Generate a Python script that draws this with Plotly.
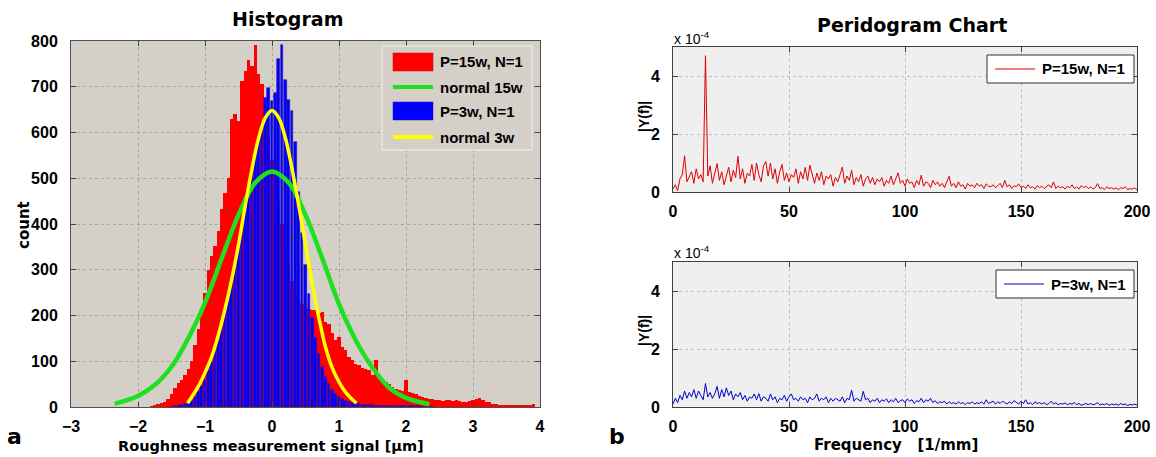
import numpy as np
import plotly.graph_objects as go

W, H = 1156, 457

# ---------------- Histogram data ----------------
red_start, blue_start, bin_w = -1.80, -1.50, 0.05
red_counts = [2, 4, 6, 8, 12, 18, 28, 42, 52, 58,
              70, 82, 100, 135, 170, 205, 250, 300, 330, 352,
              385, 432, 468, 500, 630, 640, 625, 712, 735, 758,
              745, 792, 728, 705, 640, 590, 540, 500, 450, 400,
              350, 310, 275, 250, 235, 225, 218, 215, 212, 211,
              205, 208, 186, 181, 161, 146, 153, 131, 124, 109,
              102, 95, 91, 86, 84, 80, 70, 102, 66, 60,
              55, 50, 44, 40, 37, 35, 58, 33, 30, 29,
              25, 22, 20, 18, 17, 16, 16, 14, 15, 15,
              13, 16, 14, 12, 12, 14, 15, 17, 19, 15,
              12, 10, 7, 7, 5, 4, 5, 3, 4, 3,
              4, 5, 3, 4, 7]
blue_counts = [1, 2, 3, 4, 6, 9, 14, 22, 32, 45,
               60, 78, 98, 120, 145, 175, 205, 240, 272, 310,
               350, 395, 435, 478, 515, 555, 585, 620, 675, 697,
               668, 686, 760, 792, 715, 672, 648, 580, 470, 380,
               310, 248, 195, 150, 115, 88, 66, 50, 38, 29,
               22, 17, 13, 10, 8, 7, 6, 5, 5, 4,
               4, 3, 3, 3, 3, 2, 2, 2, 2, 2,
               2, 2, 2, 2, 2, 1, 1, 1, 1]
red_centers = np.round(red_start + bin_w * np.arange(len(red_counts)), 3)
blue_centers = np.round(blue_start + bin_w * np.arange(len(blue_counts)), 3)

green_x = [-2.35, -2.0, -1.75, -1.5, -1.25, -1.0, -0.75, -0.5, -0.25, 0.0,
           0.25, 0.5, 0.75, 1.0, 1.25, 1.5, 1.75, 2.0, 2.35]
green_y = [7, 24, 48, 88, 150, 228, 325, 420, 490, 515,
           490, 420, 325, 225, 146, 86, 42, 20, 6]
yellow_x = [-1.26, -1.1, -1.0, -0.9, -0.8, -0.7, -0.6, -0.5, -0.4, -0.3, -0.2, -0.1, 0.0,
            0.1, 0.2, 0.3, 0.4, 0.5, 0.6, 0.7, 0.8, 0.9, 1.0, 1.1, 1.26]
yellow_y = [8, 45, 75, 110, 158, 215, 280, 355, 440, 520, 588, 632, 648,
            632, 588, 520, 440, 355, 270, 195, 130, 85, 55, 32, 8]

# ---------------- Periodogram data (x 1e-4) ----------------
freq_start, freq_step = 0, 1
red_psd = [0.10, 0.25, 0.05, 0.45, 0.60, 1.25, 0.35, 0.55, 0.70, 0.30,
           0.80, 0.45, 0.60, 0.35, 4.70, 0.55, 0.90, 0.30, 0.65, 0.98,
           0.40, 0.70, 0.25, 0.60, 0.85, 0.35, 0.75, 0.50, 1.23, 0.45,
           0.80, 0.30, 0.65, 0.55, 0.95, 0.40, 1.00, 0.60, 0.35, 0.90,
           1.05, 0.55, 1.00, 0.45, 0.80, 0.30, 0.70, 0.95, 0.40, 0.65,
           0.35, 0.60, 0.50, 0.80, 0.30, 0.70, 0.45, 0.85, 0.40, 0.92,
           0.55, 0.30, 0.65, 0.40, 0.70, 0.25, 0.55, 0.45, 0.60, 0.20,
           0.50, 0.35, 0.60, 0.86, 0.30, 0.55, 0.40, 0.75, 0.25, 0.50,
           0.35, 0.60, 0.20, 0.45, 0.55, 0.30, 0.50, 0.25, 0.45, 0.35,
           0.50, 0.20, 0.40, 0.30, 0.55, 0.25, 0.45, 0.66, 0.30, 0.40,
           0.20, 0.45, 0.30, 0.35, 0.15, 0.40, 0.25, 0.58, 0.20, 0.35,
           0.30, 0.15, 0.40, 0.25, 0.35, 0.20, 0.30, 0.15, 0.35, 0.54,
           0.20, 0.30, 0.15, 0.35, 0.20, 0.25, 0.10, 0.30, 0.20, 0.25,
           0.15, 0.30, 0.20, 0.25, 0.12, 0.28, 0.20, 0.18, 0.25, 0.15,
           0.22, 0.30, 0.15, 0.40, 0.18, 0.25, 0.12, 0.22, 0.18, 0.28,
           0.15, 0.20, 0.12, 0.25, 0.15, 0.18, 0.10, 0.22, 0.15, 0.20,
           0.12, 0.18, 0.25, 0.15, 0.35, 0.12, 0.20, 0.15, 0.18, 0.10,
           0.20, 0.15, 0.25, 0.12, 0.18, 0.10, 0.22, 0.15, 0.20, 0.12,
           0.18, 0.10, 0.15, 0.29, 0.12, 0.15, 0.08, 0.18, 0.12, 0.15,
           0.10, 0.14, 0.08, 0.15, 0.12, 0.18, 0.08, 0.12, 0.10, 0.14,
           0.08]
blue_psd = [0.10, 0.30, 0.15, 0.40, 0.25, 0.55, 0.30, 0.50, 0.35, 0.60,
            0.30, 0.55, 0.40, 0.25, 0.81, 0.35, 0.50, 0.30, 0.45, 0.71,
            0.30, 0.60, 0.35, 0.66, 0.40, 0.55, 0.25, 0.45, 0.35, 0.50,
            0.25, 0.40, 0.20, 0.35, 0.30, 0.45, 0.25, 0.46, 0.20, 0.35,
            0.30, 0.20, 0.45, 0.25, 0.35, 0.15, 0.30, 0.25, 0.40, 0.20,
            0.35, 0.45, 0.25, 0.30, 0.20, 0.35, 0.25, 0.30, 0.15, 0.35,
            0.25, 0.30, 0.45, 0.20, 0.30, 0.25, 0.35, 0.15, 0.30, 0.20,
            0.30, 0.25, 0.20, 0.35, 0.15, 0.30, 0.25, 0.58, 0.20, 0.30,
            0.25, 0.20, 0.54, 0.25, 0.30, 0.15, 0.25, 0.20, 0.30, 0.15,
            0.25, 0.20, 0.28, 0.15, 0.25, 0.18, 0.30, 0.15, 0.22, 0.25,
            0.15, 0.28, 0.20, 0.25, 0.12, 0.22, 0.18, 0.30, 0.15, 0.25,
            0.20, 0.30, 0.15, 0.22, 0.12, 0.18, 0.15, 0.20, 0.10, 0.18,
            0.12, 0.15, 0.10, 0.18, 0.12, 0.15, 0.08, 0.15, 0.12, 0.18,
            0.10, 0.15, 0.12, 0.18, 0.10, 0.25, 0.12, 0.15, 0.20, 0.10,
            0.18, 0.12, 0.20, 0.15, 0.10, 0.18, 0.12, 0.22, 0.15, 0.10,
            0.20, 0.12, 0.25, 0.10, 0.15, 0.08, 0.18, 0.12, 0.15, 0.10,
            0.15, 0.08, 0.12, 0.20, 0.10, 0.15, 0.08, 0.12, 0.10, 0.14,
            0.08, 0.12, 0.10, 0.15, 0.08, 0.12, 0.06, 0.10, 0.12, 0.08,
            0.12, 0.08, 0.10, 0.15, 0.07, 0.10, 0.08, 0.12, 0.06, 0.10,
            0.08, 0.10, 0.06, 0.12, 0.08, 0.10, 0.05, 0.09, 0.07, 0.10,
            0.06]
freqs = freq_start + freq_step * np.arange(len(red_psd))
red_psd_vals = np.array(red_psd) * 1e-4
blue_psd_vals = np.array(blue_psd) * 1e-4

hist_xticks = [-3, -2, -1, 0, 1, 2, 3, 4]
hist_yticks = [0, 100, 200, 300, 400, 500, 600, 700, 800]
freq_ticks = [0, 50, 100, 150, 200]
psd_ticks = [0, 2e-4, 4e-4]
psd_ticklabels = ["0", "2", "4"]


def px(x):
    return x / W


def py(y):
    return 1 - y / H


fig = go.Figure()

fig.add_trace(go.Bar(x=red_centers, y=red_counts, width=bin_w,
                     marker=dict(color="#ff0000", line=dict(width=0)),
                     xaxis="x", yaxis="y", showlegend=False))
fig.add_trace(go.Scatter(x=green_x, y=green_y, mode="lines", line_shape="spline",
                         line=dict(color="#1fe01f", width=4.5),
                         xaxis="x", yaxis="y", showlegend=False))
fig.add_trace(go.Bar(x=blue_centers, y=blue_counts, width=bin_w * 0.8,
                     marker=dict(color="#0000ff", line=dict(width=0.6, color="#2a10b0")),
                     xaxis="x", yaxis="y", showlegend=False))
fig.add_trace(go.Scatter(x=yellow_x, y=yellow_y, mode="lines", line_shape="spline",
                         line=dict(color="#ffff00", width=3.5),
                         xaxis="x", yaxis="y", showlegend=False))

fig.add_trace(go.Scatter(x=freqs, y=red_psd_vals, mode="lines",
                         line=dict(color="#e00000", width=1),
                         xaxis="x2", yaxis="y2", showlegend=False))
fig.add_trace(go.Scatter(x=freqs, y=blue_psd_vals, mode="lines",
                         line=dict(color="#0000d0", width=1),
                         xaxis="x3", yaxis="y3", showlegend=False))

tickfont = dict(family="Liberation Sans", size=16, color="black", weight="bold")
ax_common = dict(showline=True, mirror="ticks", ticks="inside", ticklen=5,
                 tickcolor="#404040", showgrid=True, griddash="dot",
                 zeroline=False, tickfont=tickfont, fixedrange=True,
                 automargin=False)
xstand = dict(ticklabelstandoff=5)
ystand = dict(ticklabelstandoff=9)

fig.update_layout(
    width=W, height=H, margin=dict(l=0, r=0, t=0, b=0),
    paper_bgcolor="white", plot_bgcolor="#d4d0c8",
    barmode="overlay", bargap=0,
    xaxis=dict(domain=[px(71), px(540)], range=[-3, 4], tickvals=hist_xticks,
               linecolor="#505050", gridcolor="#a9a59d", anchor="y", **xstand, **ax_common),
    yaxis=dict(domain=[py(407), py(41)], range=[0, 800], tickvals=hist_yticks,
               linecolor="#505050", gridcolor="#a9a59d", anchor="x", **ystand, **ax_common),
    xaxis2=dict(domain=[px(673), px(1137)], range=[0, 200], tickvals=freq_ticks,
                linecolor="#404040", gridcolor="#bdbdbd", anchor="y2", **xstand, **ax_common),
    yaxis2=dict(domain=[py(192), py(47)], range=[0, 5e-4], tickvals=psd_ticks,
                ticktext=psd_ticklabels, linecolor="#404040", gridcolor="#bdbdbd",
                anchor="x2", **ystand, **ax_common),
    xaxis3=dict(domain=[px(673), px(1137)], range=[0, 200], tickvals=freq_ticks,
                linecolor="#404040", gridcolor="#bdbdbd", anchor="y3", **xstand, **ax_common),
    yaxis3=dict(domain=[py(407), py(262)], range=[0, 5e-4], tickvals=psd_ticks,
                ticktext=psd_ticklabels, linecolor="#404040", gridcolor="#bdbdbd",
                anchor="x3", **ystand, **ax_common),
)

shapes = []
# right plots background (different from left)
for (y0, y1) in [(192, 47), (407, 262)]:
    shapes.append(dict(type="rect", xref="paper", yref="paper", layer="below",
                       x0=px(673), x1=px(1137), y0=py(y0), y1=py(y1),
                       fillcolor="#efefef", line=dict(width=0)))

# left legend
shapes.append(dict(type="rect", xref="paper", yref="paper",
                   x0=px(382), x1=px(532), y0=py(150), y1=py(46),
                   fillcolor="#d4d0c8", line=dict(color="#f2f2f2", width=1)))
shapes.append(dict(type="rect", xref="paper", yref="paper",
                   x0=px(393), x1=px(433), y0=py(71), y1=py(53),
                   fillcolor="#ff0000", line=dict(color="#d00000", width=0.5)))
shapes.append(dict(type="line", xref="paper", yref="paper",
                   x0=px(393), x1=px(433), y0=py(87), y1=py(87),
                   line=dict(color="#1fe01f", width=4)))
shapes.append(dict(type="rect", xref="paper", yref="paper",
                   x0=px(393), x1=px(433), y0=py(120), y1=py(102),
                   fillcolor="#0000ff", line=dict(color="#2a10b0", width=0.5)))
shapes.append(dict(type="line", xref="paper", yref="paper",
                   x0=px(393), x1=px(433), y0=py(137), y1=py(137),
                   line=dict(color="#ffff00", width=4)))

# right legends
shapes.append(dict(type="rect", xref="paper", yref="paper",
                   x0=px(987), x1=px(1134), y0=py(83), y1=py(55),
                   fillcolor="white", line=dict(color="#303030", width=1)))
shapes.append(dict(type="line", xref="paper", yref="paper",
                   x0=px(995), x1=px(1035), y0=py(69), y1=py(69),
                   line=dict(color="#e00000", width=1)))
shapes.append(dict(type="rect", xref="paper", yref="paper",
                   x0=px(996), x1=px(1134), y0=py(298), y1=py(270),
                   fillcolor="white", line=dict(color="#303030", width=1)))
shapes.append(dict(type="line", xref="paper", yref="paper",
                   x0=px(1004), x1=px(1044), y0=py(284), y1=py(284),
                   line=dict(color="#0000d0", width=1)))
fig.update_layout(shapes=shapes)

ann = []


def text(x, y, s, size, family="Liberation Sans", xanchor="left", angle=0):
    ann.append(dict(x=px(x), y=py(y), xref="paper", yref="paper", text=s,
                    showarrow=False, xanchor=xanchor, yanchor="middle", textangle=angle,
                    font=dict(family=family, size=size, color="black")))


legfont = 15
text(438, 62, "<b>P=15w, N=1</b>", legfont)
text(438, 87, "<b>normal 15w</b>", legfont)
text(438, 111, "<b>P=3w, N=1</b>", legfont)
text(438, 137, "<b>normal 3w</b>", legfont)
text(1040, 69, "<b>P=15w, N=1</b>", legfont)
text(1049, 284, "<b>P=3w, N=1</b>", legfont)

text(287, 19, "<b>Histogram</b>", 19, family="DejaVu Sans", xanchor="center")
text(912, 25, "<b>Peridogram Chart</b>", 19, family="DejaVu Sans", xanchor="center")
text(271, 446, "<b>Roughness measurement signal [µm]</b>", 14.5, family="DejaVu Sans", xanchor="center")
text(896, 445, "<b>Frequency   [1/mm]</b>", 15, family="DejaVu Sans", xanchor="center")
text(24, 225, "<b>count</b>", 15, family="DejaVu Sans", xanchor="center", angle=-90)
text(644, 117, "<b>|Y(f)|</b>", 14, xanchor="center", angle=-90)
text(644, 331, "<b>|Y(f)|</b>", 14, xanchor="center", angle=-90)
text(672, 38, "x 10<sup>-4</sup>", 14, xanchor="left")
text(672, 252, "x 10<sup>-4</sup>", 14, xanchor="left")
text(14, 436, "<b>a</b>", 22, family="DejaVu Sans", xanchor="center")
text(617, 436, "<b>b</b>", 22, family="DejaVu Sans", xanchor="center")
fig.update_layout(annotations=ann)

fig.write_html("out.html", config={"displayModeBar": False},
               post_script="document.body.style.margin='0';document.body.style.overflow='hidden';")
